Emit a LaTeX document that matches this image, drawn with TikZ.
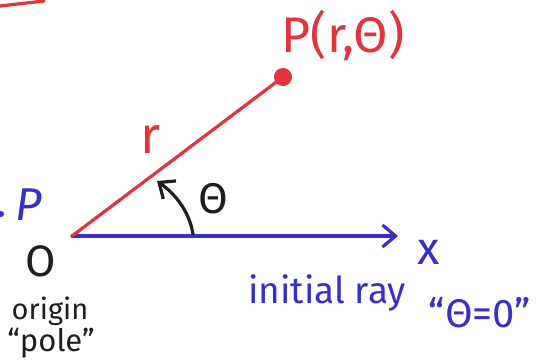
\documentclass[tikz,border=0pt]{standalone}
\usepackage{fontspec}
\setmainfont{Fira Sans}
\usetikzlibrary{arrows.meta}
\definecolor{penred}{RGB}{226,52,62}
\definecolor{penblue}{RGB}{52,48,200}
\definecolor{penblack}{RGB}{30,30,30}
\tikzset{
  pen/.style={line width=3.2pt, line cap=round, line join=round},
  hand/.style={inner sep=0pt, anchor=center},
  barb/.style={-{Straight Barb[length=13pt,width=22pt,line width=3.2pt]}},
}
\begin{document}
\begin{tikzpicture}[x=1pt,y=-1pt]
\useasboundingbox (0,0) rectangle (537,362);
% top-left red stroke
\coordinate (s1) at (0,6);
\coordinate (s2) at (44,1);
\draw[pen,penred] (s1) -- (s2);
% origin and point
\coordinate (O) at (72,236);
\coordinate (Pt) at (283,77);
\coordinate (X) at (398,236);
\draw[pen,penblue,barb] (O) -- (X);
\draw[pen,penred] (O) -- (Pt);
\fill[penred] (Pt) circle (9);
% angle arrow
\coordinate (a1) at (193,234);
\coordinate (a2) at (157,181);
\draw[pen,penblack,barb] (a1) .. controls (189,210) and (174,193) .. (a2);
% labels
\node[hand,text=penred,font=\fontsize{50}{52}\selectfont] (lP) at (343,36) {P(r,Θ)};
\node[hand,text=penred,font=\fontsize{52}{54}\selectfont] (lr) at (151,139) {r};
\node[hand,text=penblack,font=\fontsize{43}{45}\selectfont] (lth) at (213,199) {Θ};
\node[hand,text=penblue,font=\fontsize{46}{48}\selectfont\itshape] (lpb) at (29,205) {P};
\fill[penblue] (1,214) circle (3);
\node[hand,text=penblack,font=\fontsize{44}{46}\selectfont] (lO) at (41,261) {O};
\node[hand,text=penblack,font=\fontsize{29}{31}\selectfont] (lorig) at (50,311) {origin};
\node[hand,text=penblack,font=\fontsize{31}{33}\selectfont] (lpole) at (51,343) {“pole”};
\node[hand,text=penblue,font=\fontsize{46}{48}\selectfont] (lx) at (429,252) {x};
\node[hand,text=penblue,font=\fontsize{37}{39}\selectfont] (lray) at (327,293) {initial ray};
\node[hand,text=penblue,font=\fontsize{40}{42}\selectfont] (lzero) at (480,313) {“Θ=0”};
\end{tikzpicture}
\end{document}
